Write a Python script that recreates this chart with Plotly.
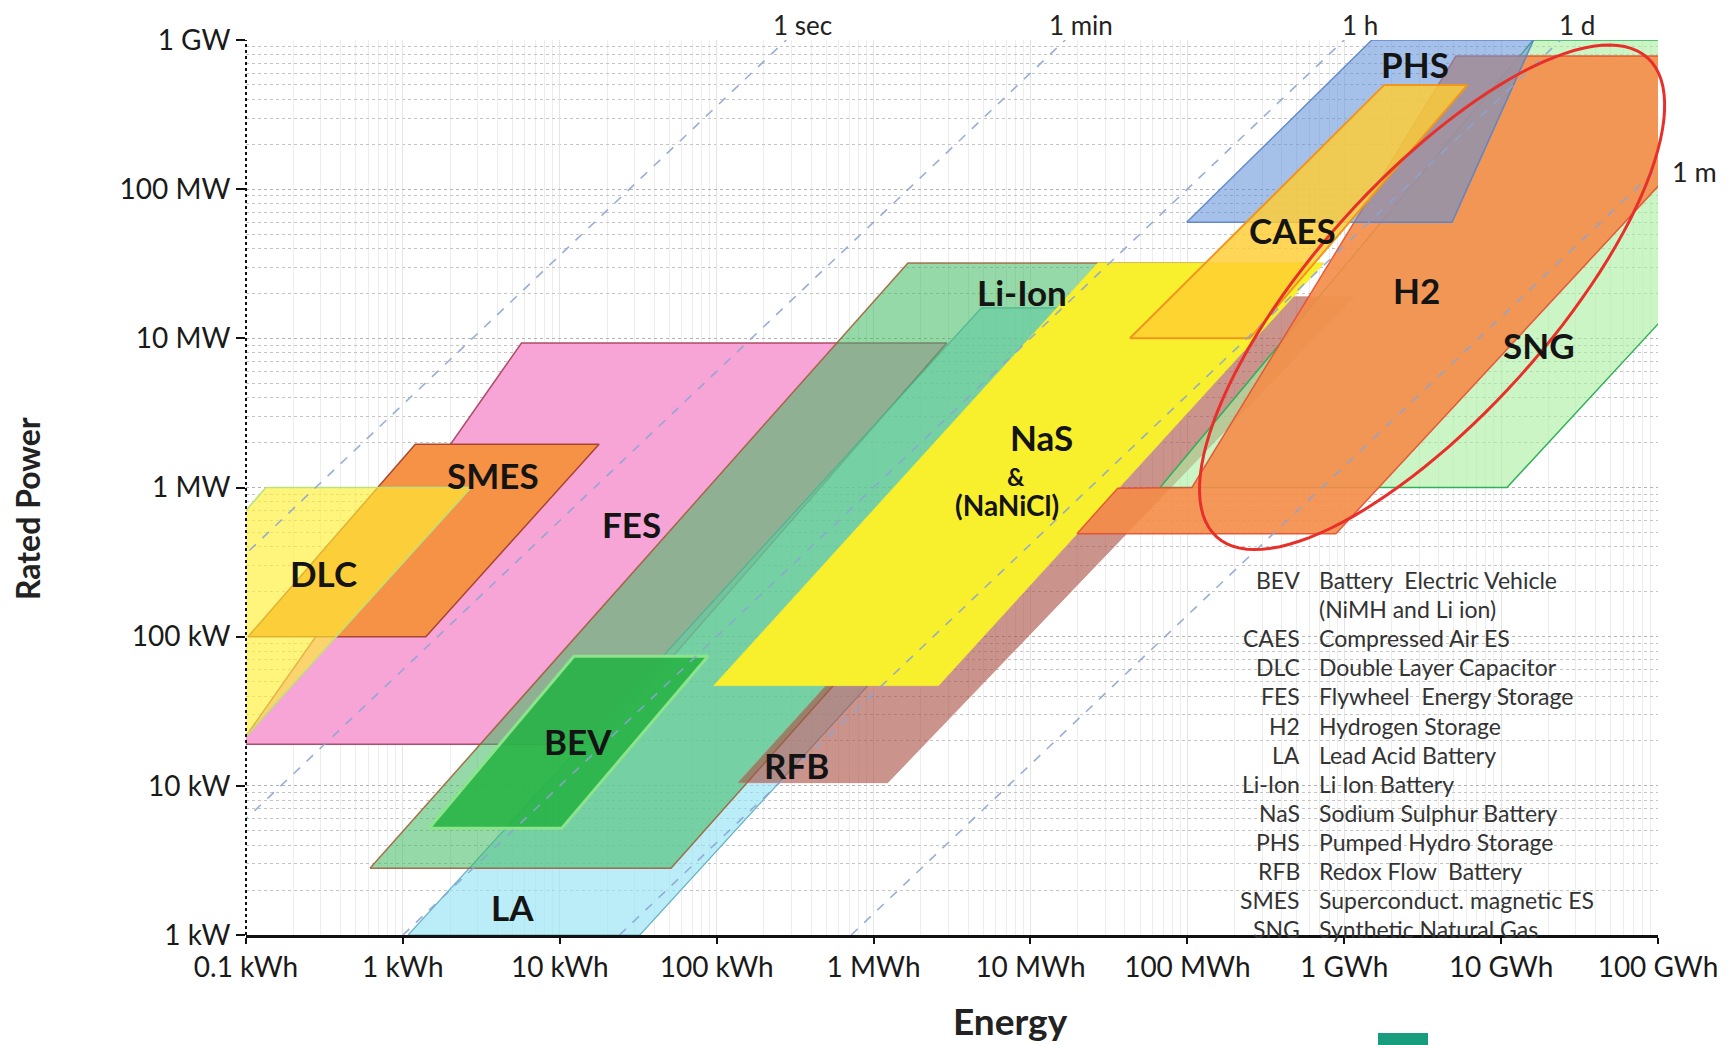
import numpy as np
import plotly.graph_objects as go

# ---------------- axis ticks ----------------
energy_tick_vals = [0.1, 1, 10, 100, 1e3, 1e4, 1e5, 1e6, 1e7, 1e8]          # kWh
energy_tick_text = ["0.1 kWh", "1 kWh", "10 kWh", "100 kWh", "1 MWh", "10 MWh",
                    "100 MWh", "1 GWh", "10 GWh", "100 GWh"]
power_tick_vals = [1, 10, 100, 1e3, 1e4, 1e5, 1e6]                           # kW
power_tick_text = ["1 kW", "10 kW", "100 kW", "1 MW", "10 MW", "100 MW", "1 GW"]

# ---------------- discharge-time reference lines ----------------
duration_names = ["1 sec", "1 min", "1 h", "1 d", "1 m"]
duration_hours = [1 / 3600, 1 / 60, 1, 24, 720]

# ---------------- technology regions: corner points (energy kWh, power kW) ----------------
fes_energy = [0.092, 17, 2930, 5.7]
fes_power = [19, 19, 9300, 9300]
smes_energy = [0.103, 1.40, 17.8, 1.20]
smes_power = [100, 100, 1950, 1950]
dlc_energy = [0.003, 0.052, 2.72, 0.134]
dlc_power = [10, 10, 1000, 1000]
la_energy = [1.08, 32.4, 1.46e5, 4870]
la_power = [1, 1, 1.6e4, 1.6e4]
liion_energy = [0.617, 51.2, 1.37e5, 1656]
liion_power = [2.8, 2.8, 3.2e4, 3.2e4]
bev_energy = [1.47, 10.3, 88.1, 12.3]
bev_power = [5.2, 5.2, 74, 74]
rfb_energy = [137, 1231, 1.15e6, 8.7e4]
rfb_power = [10.5, 10.5, 1.9e4, 1.9e4]
nas_energy = [96, 2594, 7.43e5, 2.69e4]
nas_power = [47, 47, 3.2e4, 3.2e4]
sng_energy = [6.7e4, 1.09e7, 4.7e9, 1.6e7]
sng_power = [1e3, 1e3, 1e6, 1e6]
h2_energy = [1.98e4, 8.85e5, 5.9e8, 5.15e6, 1.07e5, 3.6e4]
h2_power = [490, 490, 7.8e5, 7.8e5, 1e3, 990]
phs_energy = [9.9e4, 4.87e6, 1.61e7, 1.5e6]
phs_power = [6e4, 6e4, 1e6, 1e6]
caes_energy = [4.3e4, 2.5e5, 6.1e6, 1.8e6]
caes_power = [1e4, 1e4, 5e5, 5e5]

# ---------------- region labels ----------------
label_text = ["DLC", "SMES", "FES", "BEV", "LA", "Li-Ion", "NaS", "&", "(NaNiCl)",
              "RFB", "CAES", "PHS", "H2", "SNG"]
label_energy = [0.31, 3.75, 28.5, 13.1, 5.03, 8830, 1.17e4, 8090, 7080,
                325, 4.71e5, 2.82e6, 2.9e6, 1.74e7]
label_power = [269, 1205, 565, 20, 1.54, 2.04e4, 2170, 1186, 769,
               13.8, 5.3e4, 6.9e5, 2.1e4, 8970]

# ---------------- legend text ----------------
legend_abbr = ["BEV", "", "CAES", "DLC", "FES", "H2", "LA", "Li-Ion", "NaS", "PHS",
               "RFB", "SMES", "SNG"]
legend_desc = ["Battery  Electric Vehicle", "(NiMH and Li ion)", "Compressed Air ES",
               "Double Layer Capacitor", "Flywheel  Energy Storage", "Hydrogen Storage",
               "Lead Acid Battery", "Li Ion Battery", "Sodium Sulphur Battery",
               "Pumped Hydro Storage", "Redox Flow  Battery", "Superconduct. magnetic ES",
               "Synthetic Natural Gas"]

# ---------------- layout geometry (page pixels; the page body adds an 8px offset) ----------------
PAGE_OFF = 8
W, H = 1736 - PAGE_OFF, 1045 - PAGE_OFF
PLOT_L, PLOT_R, PLOT_T, PLOT_B = 246, 1658, 40, 935      # plot area on the page
ML, MT = PLOT_L - PAGE_OFF, PLOT_T - PAGE_OFF
PW, PH = PLOT_R - PLOT_L, PLOT_B - PLOT_T
MR, MB = W - ML - PW, H - MT - PH
X_RANGE = [-1, 8]
Y_RANGE = [0, 6]


def px_to_paper_x(px):
    return (px - PLOT_L) / PW


def px_to_paper_y(py):
    return (PLOT_B - py) / PH


FONT = "Lato, 'Open Sans', sans-serif"

fig = go.Figure()

# draw order (bottom -> top) with styles
regions = [
    ("FES", fes_energy, fes_power, "rgba(247,164,214,1.0)", "rgba(170,60,90,0.9)", 1.5),
    ("SMES", smes_energy, smes_power, "rgba(245,146,70,1.0)", "rgba(160,60,40,0.9)", 1.5),
    ("DLC", dlc_energy, dlc_power, "rgba(255,240,50,0.64)", "rgba(190,225,120,1)", 1.5),
    ("LA", la_energy, la_power, "rgba(150,228,245,0.65)", "rgba(90,170,190,0.9)", 1.2),
    ("Li-Ion", liion_energy, liion_power, "rgba(60,185,95,0.55)", "rgba(160,90,50,0.85)", 1.5),
    ("BEV", bev_energy, bev_power, "rgba(40,178,70,0.9)", "rgba(140,228,140,1)", 3),
    ("RFB", rfb_energy, rfb_power, "rgba(170,80,70,0.62)", "rgba(200,120,110,0.6)", 1),
    ("NaS", nas_energy, nas_power, "rgba(248,240,45,1.0)", "rgba(240,230,60,1)", 1),
    ("SNG", sng_energy, sng_power, "rgba(170,238,160,0.6)", "rgba(50,175,90,1)", 1.5),
    ("H2", h2_energy, h2_power, "rgba(245,140,72,0.9)", "rgba(225,80,50,0.9)", 1.5),
    ("PHS", phs_energy, phs_power, "rgba(95,145,218,0.56)", "rgba(90,130,200,0.9)", 1.5),
    ("CAES", caes_energy, caes_power, "rgba(255,205,50,0.82)", "rgba(240,150,30,1)", 2),
]

for name, e, p, fill, lc, lw in regions:
    fig.add_trace(go.Scatter(
        x=list(e) + [e[0]], y=list(p) + [p[0]], mode="lines", fill="toself",
        fillcolor=fill, line=dict(color=lc, width=lw), name=name, hoverinfo="name",
        showlegend=False))

# discharge time lines
for name, t in zip(duration_names, duration_hours):
    fig.add_trace(go.Scatter(
        x=[power_tick_vals[0] * t, power_tick_vals[-1] * t],
        y=[power_tick_vals[0], power_tick_vals[-1]],
        mode="lines", line=dict(color="rgba(140,165,210,0.9)", width=1.6, dash="dash"),
        hoverinfo="skip", showlegend=False))

annotations = []
# duration labels (kept inside the figure's top edge)
for name, t in zip(duration_names[:4], duration_hours[:4]):
    annotations.append(dict(
        x=np.log10(power_tick_vals[-1] * t), xref="x", y=1, yref="paper",
        text=name, showarrow=False, xanchor="center", yanchor="bottom",
        xshift=16, yshift=-3, font=dict(family=FONT, size=26, color="#222")))
annotations.append(dict(
    x=1, xref="paper", y=np.log10(energy_tick_vals[-1] / duration_hours[4]), yref="y",
    text=duration_names[4], showarrow=False, xanchor="left", yanchor="middle",
    xshift=12, yshift=-4, font=dict(family=FONT, size=27, color="#222")))

# region labels
label_sizes = {"&": 24, "(NaNiCl)": 28, "NaS": 35}
for txt, e, p in zip(label_text, label_energy, label_power):
    annotations.append(dict(
        x=np.log10(e), y=np.log10(p), xref="x", yref="y", text="<b>%s</b>" % txt,
        showarrow=False, xanchor="center", yanchor="middle",
        font=dict(family=FONT, size=label_sizes.get(txt, 35), color="#141414")))

# legend block
row0, row_step = 580, 29.1
for i, (ab, de) in enumerate(zip(legend_abbr, legend_desc)):
    yp = px_to_paper_y(row0 + i * row_step)
    if ab:
        annotations.append(dict(x=px_to_paper_x(1302), y=yp, xref="paper", yref="paper",
                                text=ab, showarrow=False, xanchor="right", yanchor="middle",
                                font=dict(family=FONT, size=23, color="#333")))
    annotations.append(dict(x=px_to_paper_x(1317), y=yp, xref="paper", yref="paper",
                            text=de, showarrow=False, xanchor="left", yanchor="middle",
                            font=dict(family=FONT, size=23, color="#333")))

# axis titles
annotations.append(dict(x=px_to_paper_x(28), y=px_to_paper_y(509), xref="paper", yref="paper",
                        text="<b>Rated Power</b>", textangle=-90, showarrow=False,
                        xanchor="center", yanchor="middle",
                        font=dict(family=FONT, size=32, color="#222")))
annotations.append(dict(x=px_to_paper_x(1010), y=px_to_paper_y(1020), xref="paper", yref="paper",
                        text="<b>Energy</b>", showarrow=False, xanchor="center", yanchor="middle",
                        font=dict(family=FONT, size=37, color="#222")))

shapes = []
# white legend background (hides grid)
shapes.append(dict(type="rect", xref="paper", yref="paper",
                   x0=px_to_paper_x(1222), x1=px_to_paper_x(1622), y0=0, y1=px_to_paper_y(557),
                   fillcolor="white", line=dict(width=0), layer="between"))
# dotted y axis line
shapes.append(dict(type="line", xref="paper", yref="paper", x0=0, x1=0, y0=0, y1=1,
                   line=dict(color="#111", width=2, dash="dot"), layer="above"))
# small logo at bottom
shapes.append(dict(type="rect", xref="paper", yref="paper",
                   x0=px_to_paper_x(1378), x1=px_to_paper_x(1428), y0=px_to_paper_y(1045),
                   y1=px_to_paper_y(1033), fillcolor="#179c7d", line=dict(width=0), layer="above"))

# highlight ellipse (in log-decade space, mapped to paper coordinates)
ell_center = (6.56, 4.275)
ell_major = (1.373, 1.606)
ell_minor = (0.559, -0.530)
phi = np.linspace(0, 2 * np.pi, 121)
lx = ell_center[0] + np.cos(phi) * ell_major[0] + np.sin(phi) * ell_minor[0]
ly = ell_center[1] + np.cos(phi) * ell_major[1] + np.sin(phi) * ell_minor[1]
xp = (lx - X_RANGE[0]) / (X_RANGE[1] - X_RANGE[0])
yp = (ly - Y_RANGE[0]) / (Y_RANGE[1] - Y_RANGE[0])
path = "M " + " L ".join("%.5f,%.5f" % (a, b) for a, b in zip(xp, yp)) + " Z"
shapes.append(dict(type="path", xref="paper", yref="paper", path=path,
                   line=dict(color="#e8302a", width=3), layer="above"))

# minor grid values
minor_vals_x = [k * 10.0 ** n for n in range(-1, 8) for k in range(2, 10)]
minor_vals_y = [k * 10.0 ** n for n in range(0, 6) for k in range(2, 10)]

fig.update_layout(
    width=W, height=H, autosize=False,
    margin=dict(l=ML, r=MR, t=MT, b=MB),
    paper_bgcolor="white", plot_bgcolor="white",
    showlegend=False,
    annotations=annotations, shapes=shapes,
    xaxis=dict(type="log", range=X_RANGE, tickmode="array", tickvals=energy_tick_vals,
               ticktext=energy_tick_text, ticks="outside", ticklen=6, tickwidth=2,
               tickcolor="#111", showline=True, linecolor="#111", linewidth=2.5,
               showgrid=True, gridcolor="#e4e4e4", gridwidth=1,
               minor=dict(tickmode="array", tickvals=minor_vals_x, showgrid=True,
                          gridcolor="#ededed", gridwidth=1, ticks=""),
               tickfont=dict(family=FONT, size=28, color="#1a1a1a"), automargin=False,
               fixedrange=True),
    yaxis=dict(type="log", range=Y_RANGE, tickmode="array", tickvals=power_tick_vals,
               ticktext=power_tick_text, ticks="outside", ticklen=9, tickwidth=2,
               tickcolor="#111", showline=False,
               showgrid=True, gridcolor="#b4b4b4", gridwidth=1, griddash="dot",
               minor=dict(tickmode="array", tickvals=minor_vals_y, showgrid=True,
                          gridcolor="#c4c4c4", gridwidth=1, griddash="dot", ticks=""),
               tickfont=dict(family=FONT, size=28, color="#1a1a1a"), automargin=False,
               fixedrange=True),
)

fig.write_html("out.html")
